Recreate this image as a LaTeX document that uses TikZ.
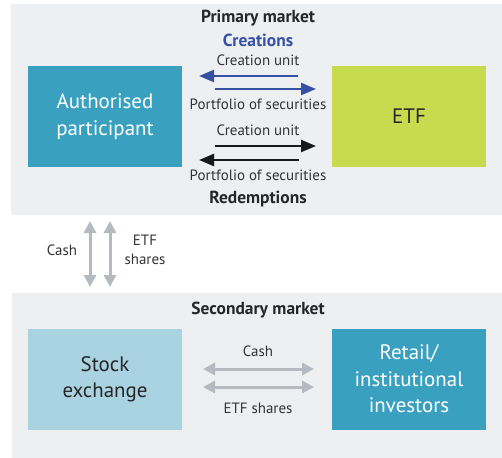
\documentclass[tikz,border=0pt]{standalone}
\usepackage{fontspec}
\setmainfont{PT Sans}
\usetikzlibrary{arrows.meta}
\definecolor{panel}{HTML}{EEEFF1}
\definecolor{tealbox}{HTML}{3AA0BF}
\definecolor{greenbox}{HTML}{C8DB4E}
\definecolor{lightblue}{HTML}{A9D3E1}
\definecolor{arrblue}{HTML}{3651A3}
\definecolor{arrgray}{HTML}{B4BAC0}
\definecolor{txt}{HTML}{333333}
\begin{document}
\begin{tikzpicture}[x=1bp,y=-1bp,
  box/.style={minimum width=154bp,minimum height=101bp,inner sep=0pt,align=center,
    font=\fontsize{21}{26.5}\selectfont},
  lbl/.style={font=\fontsize{15}{18}\selectfont,text=txt,inner sep=0pt},
  ttl/.style={font=\bfseries\fontsize{17.5}{20}\selectfont,text=black!85,inner sep=0pt},
  bluearr/.style={draw=arrblue,line width=2.4bp,-{Triangle[length=15bp,width=12bp]}},
  blackarr/.style={draw=black!90,line width=2.4bp,-{Triangle[length=15bp,width=12bp]}},
  grayarr/.style={draw=arrgray,line width=3bp,{Triangle[length=12bp,width=12bp]}-{Triangle[length=12bp,width=12bp]}}]
\useasboundingbox (0,0) rectangle (502,458);
\fill[panel] (11,4) rectangle (502,215);
\fill[panel] (12,293) rectangle (502,458);

\node[box,fill=tealbox,text=white] (ap) at (105,116.5) {Authorised\\participant};
\node[box,fill=greenbox,text=black!85] (etf) at (409,116.5) {ETF};
\node[box,fill=lightblue,text=black!85] (se) at (105,379) {Stock\\exchange};
\node[box,fill=tealbox,text=white] (ri) at (409,379) {Retail/\\institutional\\investors};

\node[ttl] (pm) at (258,18) {Primary market};
\node[ttl,text=arrblue] (cr) at (258,40) {Creations};
\node[ttl] (rd) at (258,199) {Redemptions};
\node[ttl] (sm) at (258,310) {Secondary market};

\node[lbl] (l1) at (258,60) {Creation unit};
\node[lbl] (l2) at (258,104) {Portfolio of securities};
\node[lbl] (l3) at (258,130) {Creation unit};
\node[lbl] (l4) at (258,175) {Portfolio of securities};

\coordinate (a1s) at (298,76);  \coordinate (a1e) at (199,76);
\coordinate (a2s) at (215,89);  \coordinate (a2e) at (316,89);
\coordinate (a3s) at (215,146); \coordinate (a3e) at (316,146);
\coordinate (a4s) at (299,160); \coordinate (a4e) at (199,160);
\draw[bluearr] (a1s) -- (a1e);
\draw[bluearr] (a2s) -- (a2e);
\draw[blackarr] (a3s) -- (a3e);
\draw[blackarr] (a4s) -- (a4e);

\coordinate (v1t) at (90,221); \coordinate (v1b) at (90,287);
\coordinate (v2t) at (110,221); \coordinate (v2b) at (110,287);
\draw[grayarr] (v1t) -- (v1b);
\draw[grayarr] (v2t) -- (v2b);
\node[lbl] (cash1) at (62,250) {Cash};
\node[lbl,align=center,font=\fontsize{15}{19}\selectfont] (es1) at (145,250) {ETF\\shares};

\node[lbl] (cash2) at (258,351) {Cash};
\node[lbl] (es2) at (258,408) {ETF shares};
\coordinate (h1l) at (203,369); \coordinate (h1r) at (314,369);
\coordinate (h2l) at (203,387); \coordinate (h2r) at (314,387);
\draw[grayarr] (h1l) -- (h1r);
\draw[grayarr] (h2l) -- (h2r);
\end{tikzpicture}
\end{document}
